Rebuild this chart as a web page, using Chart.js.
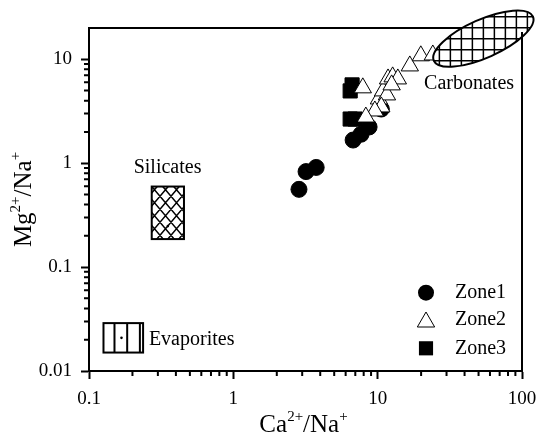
<!DOCTYPE html>
<html>
<head>
<meta charset="utf-8">
<script src="https://cdn.jsdelivr.net/npm/chart.js@4.4.0/dist/chart.umd.min.js"></script>
<style>
  html, body { margin: 0; padding: 0; background: #fff; }
  canvas { display: block; }
</style>
</head>
<body>
<canvas id="myChart" width="538" height="437"></canvas>
<script>
// Ca2+/Na+ vs Mg2+/Na+ ratios for each zone
const zone1Ca = [2.85, 3.19, 3.75, 6.76, 7.67, 8.72, 10.6]
const zone1Mg = [0.56, 0.83, 0.91, 1.67, 1.9, 2.23, 3.32]

const zone2Ca = [7.89, 10.2, 10.9, 11.6, 11.8, 12.7, 13.8, 10.6, 9.56, 8.28, 16.7, 19.9, 24.1, 12.5]
const zone2Mg = [5.31, 4.15, 4.96, 4.54, 6.47, 6.77, 6.47, 3.48, 3.18, 2.78, 8.63, 10.8, 11.0, 5.67]

const zone3Ca = [6.65, 6.45, 6.45, 6.98]
const zone3Mg = [5.67, 4.96, 2.66, 2.66]

// end-member fields (data coordinates)
const silicatesCa = [0.272, 0.455]
const silicatesMg = [0.186, 0.596]
const evaporitesCa = [0.126, 0.237]
const evaporitesMg = [0.01505, 0.0289]
const carbonatesCenter = [54, 15.8]
const carbonatesMajorEnd = [119, 25.8]
const carbonatesMinorEnd = [60.8, 10.7]

const xTicks = [0.1, 1, 10, 100]
const yTicks = [0.01, 0.1, 1, 10]

const seriesNames = ['Zone1', 'Zone2', 'Zone3']

const serif = "'Liberation Serif', 'Times New Roman', serif"
Chart.defaults.font.family = serif
Chart.defaults.color = '#000'

function pts(xs, ys) {
  return xs.map((x, i) => ({x: x, y: ys[i]}))
}

// text with superscripts, parts = [[text, isSup], ...]
function richWidth(ctx, parts, size) {
  let w = 0
  parts.forEach(p => {
    ctx.font = (p[1] ? size * 0.6 : size) + 'px ' + serif
    w += ctx.measureText(p[0]).width
  })
  return w
}
function drawRich(ctx, parts, x, y, size) {
  let w = richWidth(ctx, parts, size)
  let cx = x - w / 2
  ctx.textBaseline = 'alphabetic'
  ctx.textAlign = 'left'
  parts.forEach(p => {
    ctx.font = (p[1] ? size * 0.6 : size) + 'px ' + serif
    ctx.fillText(p[0], cx, p[1] ? y - size * 0.45 : y)
    cx += ctx.measureText(p[0]).width
  })
}

function marker(ctx, style, x, y, r) {
  ctx.beginPath()
  ctx.lineWidth = 1
  ctx.strokeStyle = '#000'
  if (style == 'circle') {
    ctx.arc(x, y, r, 0, Math.PI * 2)
    ctx.fillStyle = '#000'
    ctx.fill()
  } else if (style == 'triangle') {
    let rad = 0
    ctx.moveTo(x + Math.sin(rad) * r, y - Math.cos(rad) * r)
    rad += Math.PI * 2 / 3
    ctx.lineTo(x + Math.sin(rad) * r, y - Math.cos(rad) * r)
    rad += Math.PI * 2 / 3
    ctx.lineTo(x + Math.sin(rad) * r, y - Math.cos(rad) * r)
    ctx.closePath()
    ctx.fillStyle = '#fff'
    ctx.fill()
    ctx.stroke()
  } else {
    let s = Math.SQRT1_2 * r
    ctx.rect(x - s, y - s, 2 * s, 2 * s)
    ctx.fillStyle = '#000'
    ctx.fill()
  }
}

const extras = {
  id: 'extras',
  afterDatasetsDraw(chart) {
    const ctx = chart.ctx
    const xs = chart.scales.x, ys = chart.scales.y
    const a = chart.chartArea
    const px = p => ({x: xs.getPixelForValue(p[0]), y: ys.getPixelForValue(p[1])})
    ctx.save()

    // frame top
    ctx.strokeStyle = '#000'
    ctx.lineWidth = 2
    ctx.beginPath()
    ctx.moveTo(a.left - 1, a.top)
    ctx.lineTo(a.right + 1, a.top)
    ctx.stroke()

    // minor ticks
    ctx.lineWidth = 2
    ctx.beginPath()
    for (let d = -1; d <= 1; d++) {
      for (let k = 2; k <= 9; k++) {
        let x = xs.getPixelForValue(k * Math.pow(10, d))
        ctx.moveTo(x, a.bottom)
        ctx.lineTo(x, a.bottom + 5)
      }
    }
    for (let d = -2; d <= 1; d++) {
      for (let k = 2; k <= 9; k++) {
        let v = k * Math.pow(10, d)
        if (v >= ys.max) break
        let y = ys.getPixelForValue(v)
        ctx.moveTo(a.left, y)
        ctx.lineTo(a.left - 5, y)
      }
    }
    ctx.stroke()

    // silicates: cross-hatched box
    let s1 = px([silicatesCa[0], silicatesMg[1]]), s2 = px([silicatesCa[1], silicatesMg[0]])
    ctx.save()
    ctx.beginPath()
    ctx.rect(s1.x, s1.y, s2.x - s1.x, s2.y - s1.y)
    ctx.fillStyle = '#fff'
    ctx.fill()
    ctx.clip()
    ctx.lineWidth = 1.5
    ctx.beginPath()
    let hw = 11, hh = 13
    for (let i = -8; i <= 8; i++) {
      let x0 = s1.x + i * hw
      ctx.moveTo(x0, s1.y)
      ctx.lineTo(x0 + hw * 5, s1.y + hh * 5)
      ctx.moveTo(x0 + hw * 0.5, s1.y)
      ctx.lineTo(x0 + hw * 0.5 - hw * 5, s1.y + hh * 5)
    }
    ctx.stroke()
    ctx.restore()
    ctx.lineWidth = 2
    ctx.strokeRect(s1.x, s1.y, s2.x - s1.x, s2.y - s1.y)
    ctx.beginPath()
    ctx.arc((s1.x + s2.x) / 2, s2.y - 13, 1.3, 0, Math.PI * 2)
    ctx.fillStyle = '#000'
    ctx.fill()

    // evaporites: vertical hatch box
    let e1 = px([evaporitesCa[0], evaporitesMg[1]]), e2 = px([evaporitesCa[1], evaporitesMg[0]])
    ctx.lineWidth = 2
    ctx.strokeRect(e1.x, e1.y, e2.x - e1.x, e2.y - e1.y)
    ctx.beginPath()
    for (let x = e1.x + 11; x < e2.x - 2; x += 12.7) {
      ctx.moveTo(x, e1.y)
      ctx.lineTo(x, e2.y)
    }
    ctx.stroke()
    ctx.beginPath()
    ctx.arc(e1.x + 18, (e1.y + e2.y) / 2, 1.3, 0, Math.PI * 2)
    ctx.fill()

    // carbonates: gridded ellipse
    let c = px(carbonatesCenter), m1 = px(carbonatesMajorEnd), m2 = px(carbonatesMinorEnd)
    let ra = Math.hypot(m1.x - c.x, m1.y - c.y), rb = Math.hypot(m2.x - c.x, m2.y - c.y)
    let rot = Math.atan2(m1.y - c.y, m1.x - c.x)
    ctx.save()
    ctx.beginPath()
    ctx.ellipse(c.x, c.y, ra, rb, rot, 0, Math.PI * 2)
    ctx.fillStyle = '#fff'
    ctx.fill()
    ctx.clip()
    ctx.lineWidth = 1.5
    ctx.beginPath()
    for (let x = c.x - 66; x <= c.x + 66; x += 11) {
      ctx.moveTo(x, c.y - 40)
      ctx.lineTo(x, c.y + 40)
    }
    for (let y = c.y - 44; y <= c.y + 44; y += 11) {
      ctx.moveTo(c.x - 70, y)
      ctx.lineTo(c.x + 70, y)
    }
    ctx.stroke()
    ctx.restore()
    ctx.lineWidth = 2
    ctx.beginPath()
    ctx.ellipse(c.x, c.y, ra, rb, rot, 0, Math.PI * 2)
    ctx.stroke()

    // frame right
    ctx.beginPath()
    ctx.moveTo(a.right, a.top + 4)
    ctx.lineTo(a.right, a.bottom + 1)
    ctx.stroke()

    // field labels
    ctx.fillStyle = '#000'
    ctx.font = '20px ' + serif
    ctx.textBaseline = 'middle'
    ctx.textAlign = 'center'
    let sl = px([0.35, 0.895])
    ctx.fillText('Silicates', sl.x, sl.y)
    let cl = px([43, 5.81])
    ctx.fillText('Carbonates', cl.x, cl.y)
    ctx.textAlign = 'left'
    let el = px([0.26, 0.02])
    ctx.fillText('Evaporites', el.x, el.y)

    // legend
    const styles = [['circle', 8], ['triangle', 10], ['rect', 10]]
    const rows = [78.3, 51, 22.7]
    seriesNames.forEach((n, i) => {
      let y = a.bottom - rows[i]
      marker(ctx, styles[i][0], a.right - 96, y + (i == 1 ? 2 : 0), styles[i][1])
      ctx.fillStyle = '#000'
      ctx.font = '20px ' + serif
      ctx.textAlign = 'left'
      ctx.textBaseline = 'middle'
      ctx.fillText(n, a.right - 67, y)
    })

    // axis titles
    ctx.fillStyle = '#000'
    drawRich(ctx, [['Ca', 0], ['2+', 1], ['/Na', 0], ['+', 1]], (a.left + a.right) / 2 - 2, 432, 25)
    ctx.save()
    ctx.translate(31, (a.top + a.bottom) / 2)
    ctx.rotate(-Math.PI / 2)
    drawRich(ctx, [['Mg', 0], ['2+', 1], ['/Na', 0], ['+', 1]], 0, 0, 25)
    ctx.restore()

    ctx.restore()
  }
}

let cfg = {
  type: 'scatter',
  data: {
    datasets: [{
      label: seriesNames[0],
      data: pts(zone1Ca, zone1Mg),
      pointStyle: 'circle',
      radius: 8,
      backgroundColor: '#000',
      borderColor: '#000',
      borderWidth: 1,
      order: 3
    }, {
      label: seriesNames[1],
      data: pts(zone2Ca, zone2Mg),
      pointStyle: 'triangle',
      radius: 10,
      backgroundColor: '#fff',
      borderColor: '#000',
      borderWidth: 1,
      order: 1
    }, {
      label: seriesNames[2],
      data: pts(zone3Ca, zone3Mg),
      pointStyle: 'rect',
      radius: 10,
      backgroundColor: '#000',
      borderColor: '#000',
      borderWidth: 1,
      order: 2
    }]
  },
  options: {
    responsive: false,
    animation: false,
    layout: {padding: {top: 28, right: 16, left: 0, bottom: 0}},
    plugins: {legend: {display: false}, tooltip: {enabled: false}},
    scales: {
      x: {
        type: 'logarithmic',
        min: 0.1,
        max: 100,
        afterBuildTicks: s => { s.ticks = xTicks.map(v => ({value: v})) },
        afterFit: s => { s.height = 66; s.paddingLeft = 0; s.paddingRight = 0 },
        ticks: {font: {size: 19}, color: '#000', padding: 9, maxRotation: 0,
                callback: v => String(v)},
        grid: {drawOnChartArea: false, drawTicks: true, tickLength: 8, tickWidth: 2, tickColor: '#000'},
        border: {display: true, color: '#000', width: 2}
      },
      y: {
        type: 'logarithmic',
        min: 0.01,
        max: 20,
        afterBuildTicks: s => { s.ticks = yTicks.map(v => ({value: v})) },
        afterFit: s => { s.width = 89; s.paddingTop = 0; s.paddingBottom = 0 },
        ticks: {font: {size: 19}, color: '#000', padding: 9,
                callback: v => String(v)},
        grid: {drawOnChartArea: false, drawTicks: true, tickLength: 8, tickWidth: 2, tickColor: '#000'},
        border: {display: true, color: '#000', width: 2}
      }
    }
  },
  plugins: [extras]
}

const myChart = new Chart(document.getElementById('myChart'), cfg)
</script>
</body>
</html>
